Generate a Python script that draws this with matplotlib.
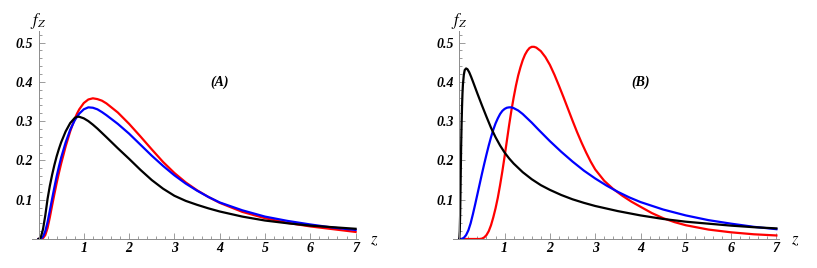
import matplotlib
matplotlib.use("Agg")
import matplotlib.pyplot as plt
from matplotlib.ticker import MultipleLocator

plt.rcParams["mathtext.fontset"] = "stix"

# ---- panel (A) : values ----
za = [0, 0.05, 0.1, 0.15, 0.2, 0.25, 0.3, 0.35, 0.4, 0.45, 0.5, 0.6, 0.7, 0.8, 0.85,
      0.9, 1.0, 1.1, 1.2, 1.3, 1.4, 1.5, 1.75, 2.0, 2.25, 2.5, 2.75, 3.0, 3.25, 3.5,
      3.75, 4.0, 4.5, 5.0, 5.5, 6.0, 6.5, 7.0]
red_a = [0, 0, 0.002, 0.01, 0.028, 0.055, 0.085, 0.114, 0.142, 0.168, 0.192, 0.236,
         0.274, 0.306, 0.319, 0.330, 0.346, 0.355, 0.358, 0.356, 0.352, 0.345, 0.322,
         0.293, 0.261, 0.228, 0.196, 0.168, 0.144, 0.124, 0.107, 0.092, 0.069, 0.053,
         0.041, 0.032, 0.025, 0.018]
blue_a = [0, 0.001, 0.006, 0.02, 0.043, 0.072, 0.102, 0.131, 0.159, 0.184, 0.207,
          0.246, 0.278, 0.302, 0.311, 0.319, 0.330, 0.335, 0.334, 0.330, 0.323, 0.315,
          0.293, 0.268, 0.240, 0.212, 0.186, 0.162, 0.141, 0.123, 0.107, 0.093, 0.073,
          0.057, 0.046, 0.037, 0.029, 0.023]
black_a = [0, 0.004, 0.025, 0.06, 0.102, 0.135, 0.163, 0.188, 0.21, 0.229, 0.246,
           0.274, 0.295, 0.308, 0.311, 0.311, 0.307, 0.300, 0.291, 0.281, 0.270, 0.259,
           0.231, 0.204, 0.176, 0.150, 0.128, 0.110, 0.097, 0.087, 0.078, 0.070, 0.057,
           0.047, 0.040, 0.034, 0.030, 0.026]

# ---- panel (B) ----
zb_red = [0, 0.45, 0.5, 0.55, 0.6, 0.65, 0.7, 0.75, 0.8, 0.85, 0.9, 0.95, 1.0, 1.05,
          1.1, 1.15, 1.2, 1.25, 1.3, 1.35, 1.4, 1.45, 1.5, 1.55, 1.6, 1.65, 1.7, 1.8,
          1.9, 2.0, 2.1, 2.2, 2.3, 2.4, 2.5, 2.6, 2.7, 2.8, 2.9, 3.0, 3.2, 3.4, 3.6,
          3.8, 4.0, 4.25, 4.5, 4.75, 5.0, 5.5, 6.0, 6.5, 7.0]
red_b = [0, 0, 0.001, 0.004, 0.01, 0.02, 0.035, 0.055, 0.078, 0.105, 0.137, 0.172,
         0.21, 0.25, 0.29, 0.327, 0.36, 0.39, 0.416, 0.437, 0.455, 0.469, 0.479, 0.486,
         0.489, 0.489, 0.487, 0.478, 0.463, 0.443, 0.418, 0.390, 0.361, 0.331, 0.301,
         0.272, 0.245, 0.220, 0.197, 0.177, 0.148, 0.127, 0.110, 0.095, 0.082, 0.066,
         0.053, 0.043, 0.035, 0.024, 0.017, 0.012, 0.009]
zb_blue = [0, 0.05, 0.1, 0.15, 0.2, 0.25, 0.3, 0.35, 0.4, 0.45, 0.5, 0.55, 0.6, 0.65,
           0.7, 0.75, 0.8, 0.85, 0.9, 0.95, 1.0, 1.05, 1.1, 1.15, 1.2, 1.3, 1.4, 1.5,
           1.6, 1.75, 2.0, 2.25, 2.5, 2.75, 3.0, 3.25, 3.5, 3.75, 4.0, 4.5, 5.0, 5.5,
           6.0, 6.5, 7.0]
blue_b = [0, 0, 0.003, 0.01, 0.022, 0.04, 0.063, 0.088, 0.114, 0.14, 0.166, 0.191,
          0.215, 0.238, 0.259, 0.278, 0.294, 0.307, 0.318, 0.326, 0.331, 0.334, 0.335,
          0.335, 0.333, 0.327, 0.318, 0.307, 0.296, 0.278, 0.249, 0.222, 0.197, 0.174,
          0.154, 0.136, 0.120, 0.106, 0.094, 0.075, 0.060, 0.048, 0.039, 0.031, 0.025]
zb_black = [0, 0.01, 0.02, 0.03, 0.04, 0.05, 0.06, 0.07, 0.08, 0.1, 0.12, 0.15, 0.18,
            0.22, 0.26, 0.3, 0.4, 0.5, 0.6, 0.7, 0.8, 0.9, 1.0, 1.1, 1.2, 1.4, 1.6,
            1.8, 2.0, 2.25, 2.5, 2.75, 3.0, 3.5, 4.0, 4.5, 5.0, 5.5, 6.0, 6.5, 7.0]
black_b = [0, 0.02, 0.07, 0.15, 0.23, 0.29, 0.335, 0.37, 0.393, 0.418, 0.43, 0.434,
           0.432, 0.424, 0.413, 0.401, 0.37, 0.34, 0.311, 0.283, 0.259, 0.238, 0.220,
           0.205, 0.192, 0.170, 0.152, 0.137, 0.125, 0.112, 0.101, 0.092, 0.084, 0.071,
           0.060, 0.051, 0.044, 0.039, 0.034, 0.030, 0.027]

xticks = [1, 2, 3, 4, 5, 6, 7]
yticks = [0.1, 0.2, 0.3, 0.4, 0.5]

tickfont = dict(family="Liberation Serif", weight="bold", style="italic", size=10)
grey = "#8c8c8c"

fig = plt.figure(figsize=(8.17, 2.68), dpi=100)
W, H = 817.0, 268.0
unit_x, unit_y = 45.3, 393.0   # pixels per z unit / per 1.0 of f


def make_axes(x0, label):
    xmin, xmax, ymax = -0.15, 7.05, 0.53
    ax = fig.add_axes([(x0 + xmin * unit_x) / W, 29 / H,
                       (xmax - xmin) * unit_x / W, ymax * unit_y / H])
    ax.set_xlim(xmin, xmax)
    ax.set_ylim(0, ymax)
    ax.spines["top"].set_visible(False)
    ax.spines["right"].set_visible(False)
    ax.spines["left"].set_position(("data", 0))
    for s in ("left", "bottom"):
        ax.spines[s].set_color(grey)
        ax.spines[s].set_linewidth(0.7)
    ax.xaxis.set_minor_locator(MultipleLocator(0.2))
    ax.yaxis.set_minor_locator(MultipleLocator(0.02))
    ax.set_xticks(xticks)
    ax.set_yticks(yticks)
    ax.set_xticklabels([str(t) for t in xticks], fontdict=tickfont)
    ax.set_yticklabels([str(t) for t in yticks], fontdict=tickfont)
    ax.tick_params(which="both", direction="in", color=grey, width=0.6)
    ax.tick_params(which="major", length=4)
    ax.tick_params(which="minor", length=2)
    ax.tick_params(axis="x", pad=2)
    ax.tick_params(axis="y", pad=4)
    ax.text(4.0, 0.40, label, ha="center", va="center", fontdict=tickfont)
    ax.text(0, 0.555, r"$f_Z$", ha="center", va="center", fontsize=12, clip_on=False)
    ax.text(7.42, 0.0, r"$z$", ha="center", va="center", fontsize=12, clip_on=False)
    return ax


ax1 = make_axes(38.5, "(A)")
ax1.plot(za, red_a, color="red", lw=1.6, solid_joinstyle="round")
ax1.plot(za, blue_a, color="blue", lw=1.6, solid_joinstyle="round")
ax1.plot(za, black_a, color="black", lw=1.6, solid_joinstyle="round")

ax2 = make_axes(459.3, "(B)")
ax2.plot(zb_red, red_b, color="red", lw=1.6, solid_joinstyle="round")
ax2.plot(zb_blue, blue_b, color="blue", lw=1.6, solid_joinstyle="round")
ax2.plot(zb_black, black_b, color="black", lw=1.6, solid_joinstyle="round")

fig.savefig("out.png", dpi=100)
